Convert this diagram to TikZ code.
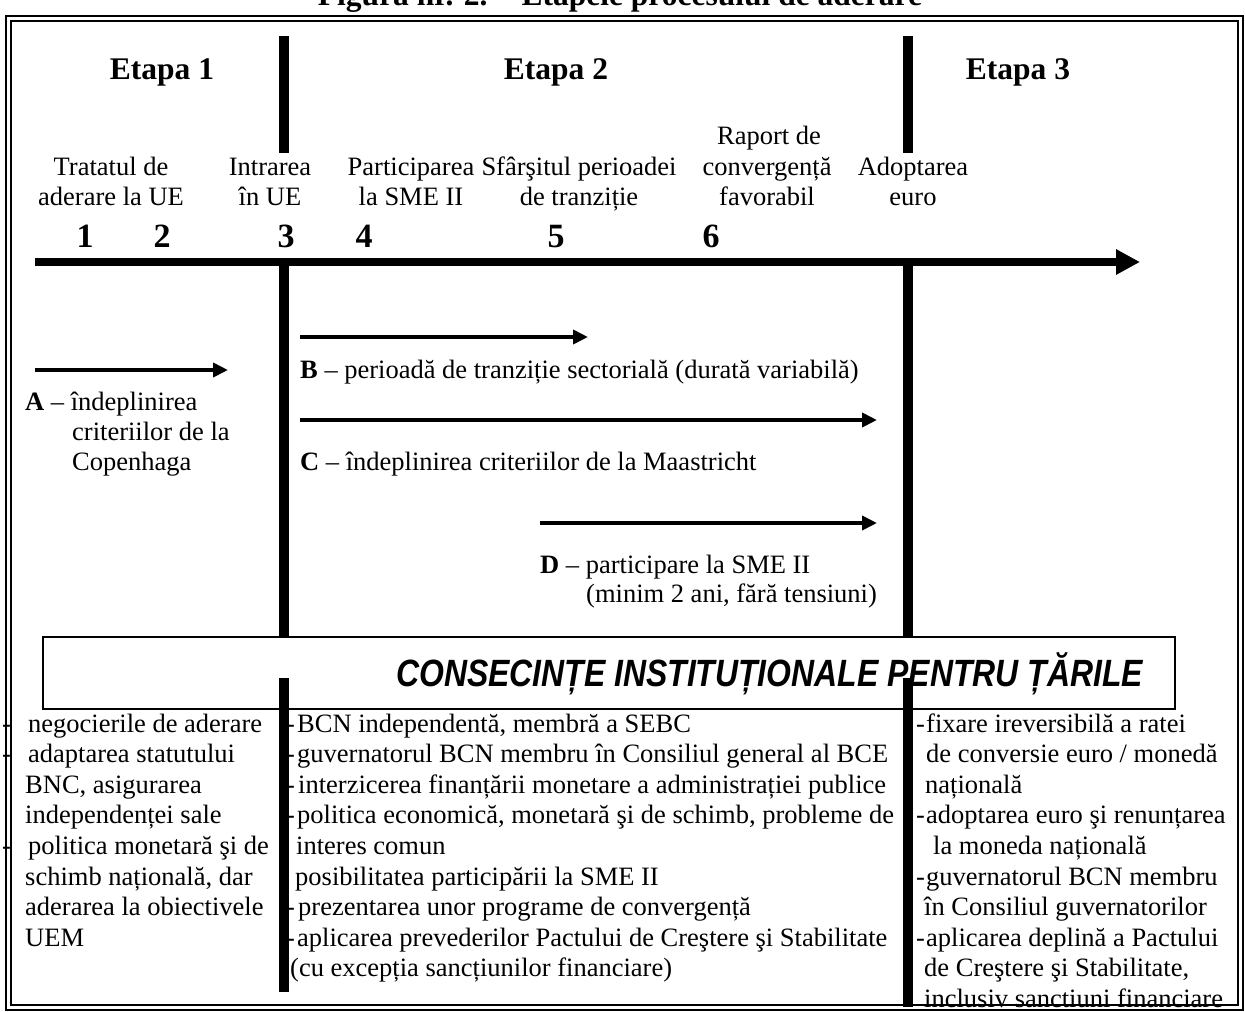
\documentclass[tikz,border=0pt]{standalone}
\usepackage{fontspec}
\setmainfont{Liberation Serif}
\newfontfamily\boxfont{Liberation Sans}[FakeStretch=0.84]
\usetikzlibrary{arrows.meta}
\begin{document}
\begin{tikzpicture}[x=1pt,y=-1pt,
  txt/.style={inner sep=0pt, anchor=base west, font=\fontsize{26.5}{31}\selectfont},
  ctxt/.style={inner sep=0pt, anchor=base, font=\fontsize{26.5}{31}\selectfont},
  btxt/.style={inner sep=0pt, anchor=base, font=\fontsize{31.5}{36}\selectfont\bfseries},
  numtxt/.style={inner sep=0pt, anchor=base, font=\fontsize{34}{36}\selectfont\bfseries},
  bar/.style={line width=10pt},
  arr/.style={line width=4pt, -{Triangle[length=15pt,width=14pt]}},
  axisarr/.style={line width=8pt, -{Triangle[length=24pt,width=24pt]}},
  ]
\useasboundingbox (0,0) rectangle (1245,1012);
% frame
\draw[line width=1.6pt] (6,16) rectangle (1243,1010);
\draw[line width=1.2pt] (11,21) rectangle (1238,1005);
% title
\node[btxt] (title) at (620,5) {Figura nr. 2. – Etapele procesului de aderare};
% stages
\node[btxt] (e1) at (162,79) {Etapa 1};
\node[btxt] (e2) at (556,79) {Etapa 2};
\node[btxt] (e3) at (1018,79) {Etapa 3};
% bars upper
\draw[bar] (284,36) -- (284,153);
\draw[bar] (908,36) -- (908,153);
\draw[bar] (284,262) -- (284,640);
\draw[bar] (908,262) -- (908,640);
% top labels
\node[ctxt] (t0) at (769,144) {Raport de};
\node[ctxt] (t1a) at (111,175) {Tratatul de};
\node[ctxt] (t1b) at (111,205) {aderare la UE};
\node[ctxt] (t3a) at (270,175) {Intrarea};
\node[ctxt] (t3b) at (270,205) {în UE};
\node[ctxt] (t4a) at (411,175) {Participarea};
\node[ctxt] (t4b) at (411,205) {la SME II};
\node[ctxt] (t5a) at (579,175) {Sfârşitul perioadei};
\node[ctxt] (t5b) at (579,205) {de tranziție};
\node[ctxt] (t6a) at (767,175) {convergență};
\node[ctxt] (t6b) at (767,205) {favorabil};
\node[ctxt] (t7a) at (913,175) {Adoptarea};
\node[ctxt] (t7b) at (913,205) {euro};
% numbers
\node[numtxt] (n1) at (85,247) {1};
\node[numtxt] (n2) at (162,247) {2};
\node[numtxt] (n3) at (286,247) {3};
\node[numtxt] (n4) at (364,247) {4};
\node[numtxt] (n5) at (556,247) {5};
\node[numtxt] (n6) at (711,247) {6};
% axis
\coordinate (ax0) at (35,262);
\coordinate (ax1) at (1140,262);
\draw[axisarr] (ax0) -- (ax1);
% arrows
\coordinate (a0) at (35,370);  \coordinate (a1) at (228,370);
\coordinate (b0) at (300,337); \coordinate (b1) at (588,337);
\coordinate (c0) at (300,420); \coordinate (c1) at (877,420);
\coordinate (d0) at (540,523); \coordinate (d1) at (877,523);
\draw[arr] (a0) -- (a1);
\draw[arr] (b0) -- (b1);
\draw[arr] (c0) -- (c1);
\draw[arr] (d0) -- (d1);
\node[txt] (la1) at (25,410) {\textbf{A} – îndeplinirea};
\node[txt] (la2) at (72,440) {criteriilor de la};
\node[txt] (la3) at (72,470) {Copenhaga};
\node[txt] (lb) at (300,378) {\textbf{B} – perioadă de tranziție sectorială (durată variabilă)};
\node[txt] (lc) at (300,470) {\textbf{C} – îndeplinirea criteriilor de la Maastricht};
\node[txt] (ld1) at (540,573) {\textbf{D} – participare la SME II};
\node[txt] (ld2) at (586,602) {(minim 2 ani, fără tensiuni)};
% box
\draw[line width=1.8pt, fill=white] (43,637) rectangle (1175,709);
\node[inner sep=0pt, anchor=base east, font=\boxfont\fontsize{38}{40}\selectfont\bfseries\itshape] (cons) at (1143,686) {CONSECINȚE INSTITUȚIONALE PENTRU ȚĂRILE};
% dashes of the middle column (partly under the bar)
\node[txt] (md1) at (286,732) {-};
\node[txt] (md2) at (286,762.6) {-};
\node[txt] (md3) at (286,793.2) {-};
\node[txt] (md4) at (286,823.8) {-};
\node[txt] (md7) at (286,915.6) {-};
\node[txt] (md8) at (286,946.2) {-};
% bars lower
\draw[bar] (284,678) -- (284,992);
\draw[bar] (908,678) -- (908,1007);
% left column
\node[txt] (ld1x) at (2,732) {-};
\node[txt] (ld2x) at (2,762.6) {-};
\node[txt] (ld5x) at (2,854.4) {-};
\node[txt] (l1) at (28,732) {negocierile de aderare};
\node[txt] (l2) at (28,762.6) {adaptarea statutului};
\node[txt] (l3) at (25,793.2) {BNC, asigurarea};
\node[txt] (l4) at (25,823.8) {independenței sale};
\node[txt] (l5) at (28,854.4) {politica monetară şi de};
\node[txt] (l6) at (25,885) {schimb națională, dar};
\node[txt] (l7) at (25,915.6) {aderarea la obiectivele};
\node[txt] (l8) at (25,946.2) {UEM};
% middle column
\node[txt] (m1) at (297,732) {BCN independentă, membră a SEBC};
\node[txt] (m2) at (297,762.6) {guvernatorul BCN membru în Consiliul general al BCE};
\node[txt] (m3) at (298,793.2) {interzicerea finanțării monetare a administrației publice};
\node[txt] (m4) at (297,823.8) {politica economică, monetară şi de schimb, probleme de};
\node[txt] (m5) at (296,854.4) {interes comun};
\node[txt] (m6) at (295,885) {posibilitatea participării la SME II};
\node[txt] (m7) at (298,915.6) {prezentarea unor programe de convergență};
\node[txt] (m8) at (297,946.2) {aplicarea prevederilor Pactului de Creştere şi Stabilitate};
\node[txt] (m9) at (290,976.8) {(cu excepția sancțiunilor financiare)};
% right column
\node[txt] (rd1) at (916,732) {-};
\node[txt] (rd4) at (916,823.8) {-};
\node[txt] (rd6) at (916,885) {-};
\node[txt] (rd8) at (916,946.2) {-};
\node[txt] (r1) at (926,732) {fixare ireversibilă a ratei};
\node[txt] (r2) at (926,762.6) {de conversie euro / monedă};
\node[txt] (r3) at (925,793.2) {națională};
\node[txt] (r4) at (926,823.8) {adoptarea euro şi renunțarea};
\node[txt] (r5) at (933,854.4) {la moneda națională};
\node[txt] (r6) at (926,885) {guvernatorul BCN membru};
\node[txt] (r7) at (924,915.6) {în Consiliul guvernatorilor};
\node[txt] (r8) at (926,946.2) {aplicarea deplină a Pactului};
\node[txt] (r9) at (924,976.8) {de Creştere şi Stabilitate,};
\node[txt] (r10) at (924,1007.4) {inclusiv sanctiuni financiare};
\end{tikzpicture}
\end{document}
